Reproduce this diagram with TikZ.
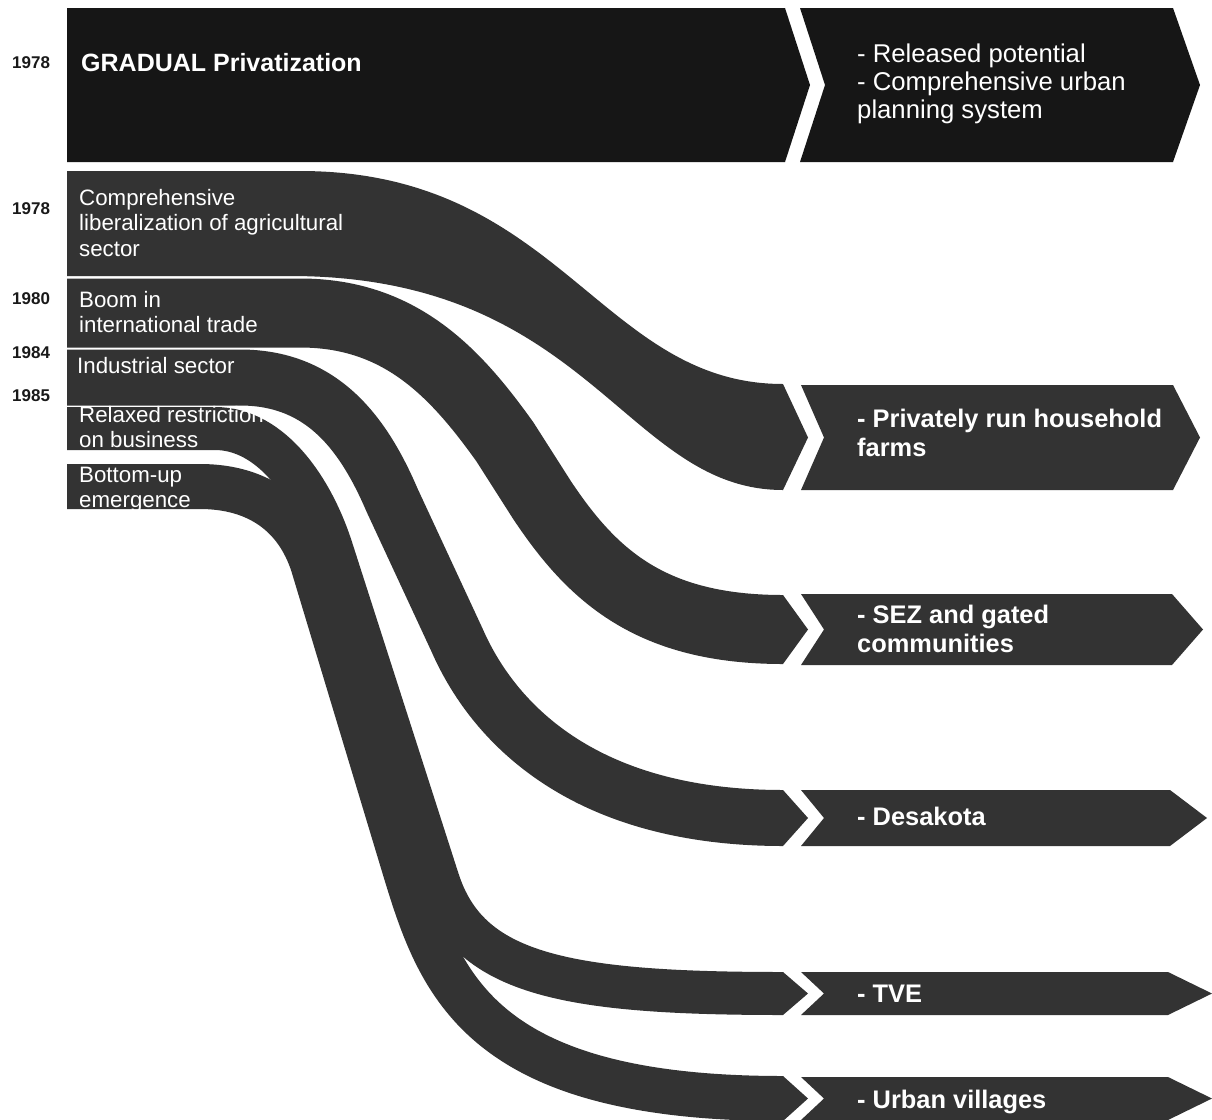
\documentclass[tikz,border=0pt]{standalone}
\usepackage{fontspec}
\setmainfont{Liberation Sans}
\definecolor{topfill}{RGB}{22,22,22}
\definecolor{ribfill}{RGB}{51,51,51}
\definecolor{yeartxt}{RGB}{25,25,25}
\begin{document}
\begin{tikzpicture}[x=1pt,y=-1pt,
  ribbon/.style={draw=ribfill,line cap=butt,line join=round},
  lbl/.style={text=white,inner sep=0,anchor=base west,font=\fontsize{22.3}{25.5}\selectfont},
  outlbl/.style={text=white,inner sep=0,anchor=base west,font=\fontsize{25.4}{29}\selectfont\bfseries},
  toplbl/.style={text=white,inner sep=0,anchor=base west,font=\fontsize{25.7}{28}\selectfont},
  yr/.style={text=yeartxt,inner sep=0,anchor=base west,font=\fontsize{17}{20}\selectfont\bfseries}]
\useasboundingbox (0,0) rectangle (1212,1119);
\fill[white] (0,0) rectangle (1212,1119);

% top band
\fill[topfill] (67,8) -- (785,8) -- (810,85) -- (785,162) -- (67,162) -- cycle;
\fill[topfill] (800,8) -- (1173,8) -- (1200,85) -- (1173,162) -- (800,162) -- (825,85) -- cycle;

% ribbon end points
\coordinate (s2) at (67,313);   \coordinate (e2) at (783,629.5);
\coordinate (s3) at (67,377.5); \coordinate (e3) at (783,818);
\coordinate (s4) at (67,428.5); \coordinate (e4) at (783,993.5);
\coordinate (s5) at (67,486.5); \coordinate (e5) at (783,1098.5);

% ribbon 1 (filled)
\fill[ribfill] (67,171) -- (300,171) .. controls (560,171) and (600,384) .. (783,384)
  -- (808,437.5) -- (783,490) .. controls (625,490) and (590,276) .. (290,276) -- (67,276) -- cycle;
% ribbon 2
\draw[ribbon,line width=69] (s2) -- (300,313) .. controls (400,313) and (455,372) .. (505,442)
  -- (542,500) .. controls (592,575) and (650,629.5) .. (e2);
\fill[ribfill] (783,595) -- (808,629.5) -- (783,664) -- cycle;
% ribbon 3
\draw[ribbon,line width=56] (s3) -- (240,377.5) .. controls (320,377.5) and (362,430) .. (392,500)
  -- (457,640) .. controls (492,720) and (580,818) .. (e3);
\fill[ribfill] (783,790) -- (808,818) -- (783,846) -- cycle;
% ribbon 4
\draw[ribbon,line width=43] (s4) -- (215,428.5) .. controls (272,428.5) and (313,490) .. (332,550)
  -- (438,880) .. controls (468,973) and (560,993.5) .. (e4);
\fill[ribfill] (783,972) -- (808,993.5) -- (783,1015) -- cycle;
% ribbon 5
\draw[ribbon,line width=45] (s5) -- (200,486.5) .. controls (258,486.5) and (297,515) .. (313,565)
  -- (405,870) .. controls (440,985) and (480,1098.5) .. (e5);
\fill[ribfill] (783,1076) -- (808,1098.5) -- (783,1121) -- cycle;

% output boxes
\fill[ribfill] (801,385) -- (1173,385) -- (1200,437.5) -- (1173,490) -- (801,490) -- (824,437.5) -- cycle;
\fill[ribfill] (801,594) -- (1172,594) -- (1203,629.5) -- (1172,665) -- (801,665) -- (824,629.5) -- cycle;
\fill[ribfill] (801,790) -- (1170,790) -- (1207,818) -- (1170,846) -- (801,846) -- (824,818) -- cycle;
\fill[ribfill] (801,972) -- (1168,972) -- (1212,993.5) -- (1168,1015) -- (801,1015) -- (824,993.5) -- cycle;
\fill[ribfill] (801,1077) -- (1168,1077) -- (1212,1098.5) -- (1168,1120) -- (801,1120) -- (824,1098.5) -- cycle;

% years
\node[yr] (y0) at (12,68) {1978};
\node[yr] (y1) at (12,214) {1978};
\node[yr] (y2) at (12,304) {1980};
\node[yr] (y3) at (12,358) {1984};
\node[yr] (y4) at (12,401) {1985};

% top texts
\node[text=white,inner sep=0,anchor=base west,font=\fontsize{25}{28}\selectfont\bfseries] (grad) at (81,71) {GRADUAL Privatization};
\node[toplbl] (rel) at (857,62) {\vtop{\hbox{- Released potential}\hbox{- Comprehensive urban}\hbox{planning system}}};

% left labels
\node[lbl] (l1) at (79,205) {\vtop{\hbox{Comprehensive}\hbox{liberalization of agricultural}\hbox{sector}}};
\node[lbl] (l2) at (79,307) {\vtop{\hbox{Boom in}\hbox{international trade}}};
\node[lbl] (l3) at (77,373) {Industrial sector};
\node[lbl] (l4) at (79,422) {\vtop{\hbox{Relaxed restriction}\hbox{on business}}};
\node[lbl] (l5) at (79,482) {\vtop{\hbox{Bottom-up}\hbox{emergence}}};

% output labels
\node[outlbl] (o1) at (857,427) {\vtop{\hbox{- Privately run household}\hbox{farms}}};
\node[outlbl] (o2) at (857,623) {\vtop{\hbox{- SEZ and gated}\hbox{communities}}};
\node[outlbl] (o3) at (857,825) {- Desakota};
\node[outlbl] (o4) at (857,1002) {- TVE};
\node[outlbl] (o5) at (857,1108) {- Urban villages};
\end{tikzpicture}
\end{document}
